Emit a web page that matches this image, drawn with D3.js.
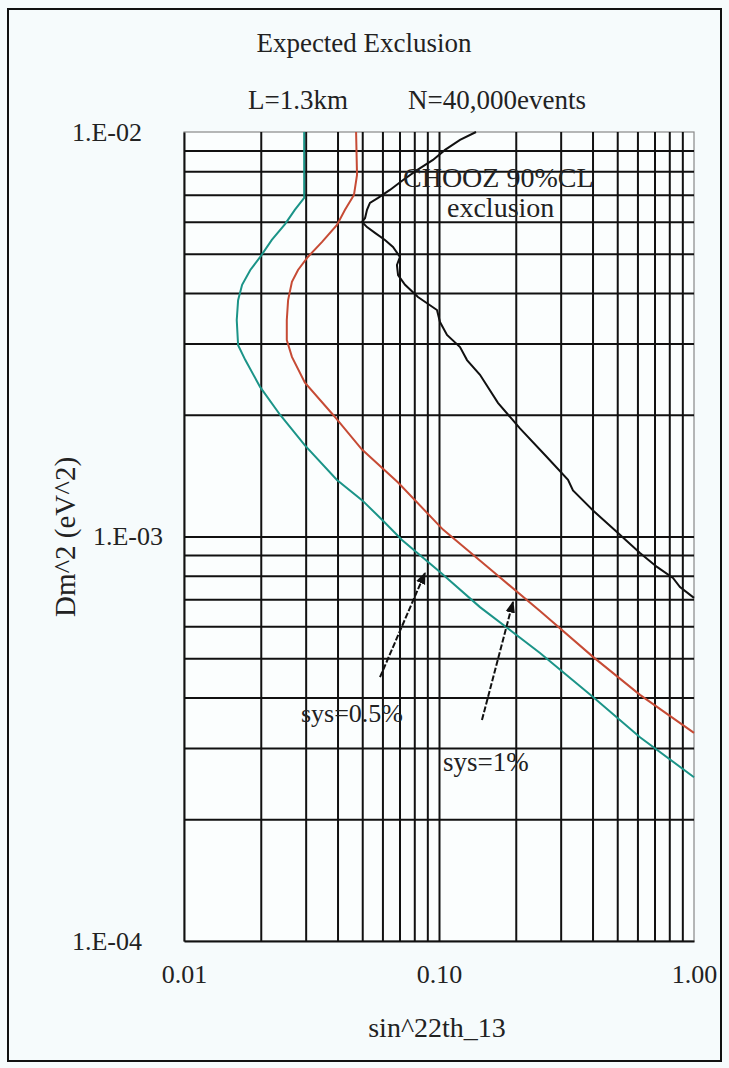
<!DOCTYPE html>
<html><head><meta charset="utf-8">
<script src="https://cdn.jsdelivr.net/npm/d3@7"></script>
<style>
html,body{margin:0;padding:0;background:#f6fbfc;}
svg{display:block;}
text{font-family:"Liberation Serif","Times New Roman",serif;fill:#222;}
</style></head>
<body>
<script>
// ---- data ----
const title = "Expected Exclusion";
const subtitleLeft = "L=1.3km";
const subtitleRight = "N=40,000events";
const xLabel = "sin^22th_13";
const yLabel = "Dm^2 (eV^2)";
const xTickValues = [0.01, 0.1, 1];
const xTickLabels = ["0.01", "0.10", "1.00"];
const yTickValues = [1e-4, 1e-3, 1e-2];
const yTickLabels = ["1.E-04", "1.E-03", "1.E-02"];

// sys = 0.5% (teal)
const sys05 = [
  [0.0296,0.0100],[0.0296,0.00687],[0.0272,0.00642],[0.0249,0.00592],[0.0221,0.00541],
  [0.0199,0.00491],[0.0182,0.00456],[0.0169,0.00419],[0.0163,0.00384],[0.0161,0.00343],
  [0.0163,0.00297],[0.0174,0.00273],[0.0199,0.00234],[0.0238,0.00200],[0.0298,0.00168],
  [0.0398,0.00138],[0.0499,0.00123],[0.0598,0.00110],[0.0716,0.000980],[0.1009,0.000817],
  [0.1448,0.000669],[0.2489,0.000515],[0.4018,0.000401],[0.6141,0.000319],[1.0,0.000254]
];
// sys = 1% (red)
const sys1 = [
  [0.0473,0.0100],[0.0477,0.00783],[0.0464,0.00699],[0.0428,0.00642],[0.0398,0.00589],
  [0.0348,0.00535],[0.0306,0.00491],[0.0280,0.00456],[0.0265,0.00426],[0.0256,0.00384],
  [0.0253,0.00343],[0.0253,0.00306],[0.0265,0.00278],[0.0298,0.00240],[0.0384,0.00200],
  [0.0499,0.00164],[0.0691,0.00136],[0.1037,0.00104],[0.1585,0.000831],[0.2489,0.000654],
  [0.4018,0.000504],[0.6141,0.000406],[1.0,0.000327]
];
// CHOOZ 90% CL exclusion (black)
const chooz = [
  [0.1397,0.0100],[0.1209,0.00956],[0.1056,0.00903],[0.0947,0.00853],[0.0820,0.00805],
  [0.0723,0.00761],[0.0642,0.00719],[0.0577,0.00687],[0.0536,0.00668],[0.0522,0.00642],
  [0.0513,0.00613],[0.0499,0.00599],[0.0522,0.00582],[0.0561,0.00563],[0.0614,0.00541],
  [0.0660,0.00520],[0.0703,0.00491],[0.0684,0.00469],[0.0691,0.00443],[0.0736,0.00419],
  [0.0827,0.00391],[0.0982,0.00363],[0.1009,0.00339],[0.1075,0.00315],[0.1209,0.00294],
  [0.1288,0.00273],[0.1448,0.00251],[0.1703,0.00214],[0.2077,0.00185],[0.2604,0.00159],
  [0.3206,0.00138],[0.3353,0.00130],[0.4018,0.00116],[0.5035,0.00102],[0.6141,0.000910],
  [0.7160,0.000841],[0.8271,0.000790],[0.8813,0.000750],[1.0,0.000705]
];
// annotation arrows: [tail, head] in data units
const arrow05 = [[0.0587,0.000449],[0.0881,0.000812]];
const arrow1 = [[0.1474,0.000352],[0.1951,0.000689]];

// ---- drawing ----
const W = 729, H = 1068;
const M = {left:184, right:694, top:132, bottom:941};
const svg = d3.select("body").append("svg").attr("width",W).attr("height",H);
svg.append("rect").attr("width",W).attr("height",H).attr("fill","#f6fbfc");
svg.append("rect").attr("x",8).attr("y",9).attr("width",713).attr("height",1052)
  .attr("fill","none").attr("stroke","#111").attr("stroke-width",2);

const x = d3.scaleLog().domain([0.01,1]).range([M.left,M.right]);
const y = d3.scaleLog().domain([1e-4,1e-2]).range([M.bottom,M.top]);

const plotW = M.right-M.left, plotH = M.bottom-M.top;
svg.append("rect").attr("x",M.left).attr("y",M.top).attr("width",plotW).attr("height",plotH)
  .attr("fill","#fbfefe").attr("stroke","#888").attr("stroke-width",1.2);

// minor gridline values via the scales
const xGrid = x.ticks().filter(v => v>0.0101 && v<0.999);
const yGrid = y.ticks().filter(v => v>1.01e-4 && v<0.0099);

svg.append("g").attr("transform",`translate(0,${M.bottom})`)
  .call(d3.axisBottom(x).tickValues(xGrid).tickSize(-plotH).tickFormat(""))
  .call(g=>{g.select(".domain").remove();g.selectAll("line").attr("stroke","#111").attr("stroke-width",2);});
svg.append("g").attr("transform",`translate(${M.left},0)`)
  .call(d3.axisLeft(y).tickValues(yGrid).tickSize(-plotW).tickFormat(""))
  .call(g=>{g.select(".domain").remove();g.selectAll("line").attr("stroke","#111").attr("stroke-width",2);});

// axes with labels
const xAxis = svg.append("g").attr("transform",`translate(0,${M.bottom})`)
  .call(d3.axisBottom(x).tickValues(xTickValues).tickSize(0).tickPadding(24)
    .tickFormat((d,i)=>xTickLabels[i]));
xAxis.select(".domain").attr("stroke","#111").attr("stroke-width",2);
xAxis.selectAll("text").attr("font-size",26).attr("font-family","Liberation Serif").attr("fill","#222");

const yAxis = svg.append("g").attr("transform",`translate(${M.left},0)`)
  .call(d3.axisLeft(y).tickValues(yTickValues).tickSize(0).tickPadding(42)
    .tickFormat((d,i)=>yTickLabels[i]));
yAxis.select(".domain").attr("stroke","#111").attr("stroke-width",2);
yAxis.selectAll("text").attr("font-size",26).attr("font-family","Liberation Serif").attr("fill","#222")
  .attr("x",(d)=> d===1e-3 ? -21 : -42);

// curves
const line = d3.line().x(d=>x(d[0])).y(d=>y(d[1])).curve(d3.curveLinear);
svg.append("path").datum(sys05).attr("d",line).attr("fill","none").attr("stroke","#1b9488").attr("stroke-width",2);
svg.append("path").datum(sys1).attr("d",line).attr("fill","none").attr("stroke","#c64b35").attr("stroke-width",2);
svg.append("path").datum(chooz).attr("d",line).attr("fill","none").attr("stroke","#111").attr("stroke-width",2);

// arrows
const defs = svg.append("defs");
defs.append("marker").attr("id","ah").attr("viewBox","0 0 10 10").attr("refX",9).attr("refY",5)
  .attr("markerWidth",6).attr("markerHeight",6).attr("markerUnits","strokeWidth").attr("orient","auto")
  .append("path").attr("d","M0,1 L10,5 L0,9 z").attr("fill","#111");
[arrow05, arrow1].forEach(a=>{
  svg.append("line").attr("x1",x(a[0][0])).attr("y1",y(a[0][1]))
    .attr("x2",x(a[1][0])).attr("y2",y(a[1][1]))
    .attr("stroke","#111").attr("stroke-width",2).attr("stroke-dasharray","6,2")
    .attr("marker-end","url(#ah)");
});

// texts
svg.append("text").attr("x",364).attr("y",52).attr("text-anchor","middle").attr("font-size",27).text(title);
svg.append("text").attr("x",248).attr("y",109).attr("font-size",27).text(subtitleLeft);
svg.append("text").attr("x",586).attr("y",109).attr("text-anchor","end").attr("font-size",27).text(subtitleRight);
svg.append("text").attr("x",437).attr("y",1037).attr("text-anchor","middle").attr("font-size",28).text(xLabel);
svg.append("text").attr("transform","translate(75,537) rotate(-90)").attr("text-anchor","middle").attr("font-size",29).text(yLabel);
svg.append("text").attr("x",403).attr("y",187).attr("font-size",28).text("CHOOZ 90%CL");
svg.append("text").attr("x",447).attr("y",217).attr("font-size",28).text("exclusion");
svg.append("text").attr("x",403).attr("y",722).attr("text-anchor","end").attr("font-size",26).text("sys=0.5%");
svg.append("text").attr("x",443).attr("y",771).attr("font-size",27).text("sys=1%");
</script>
</body></html>
